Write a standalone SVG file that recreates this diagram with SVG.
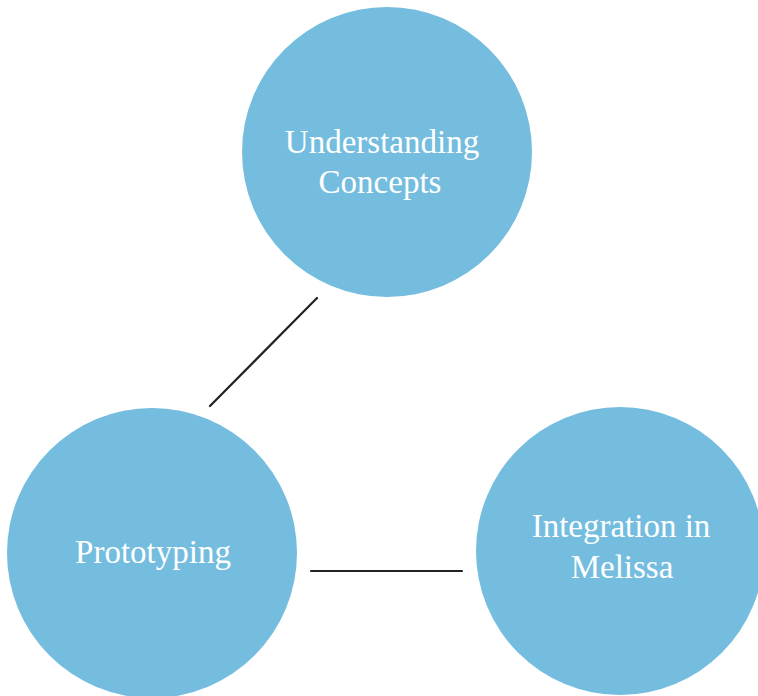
<svg xmlns="http://www.w3.org/2000/svg" width="758" height="696" viewBox="0 0 758 696">
<style>
.node{fill:#74bddf}
.lbl{font-family:"Liberation Serif","Times New Roman",serif;font-size:33px;fill:#ffffff;text-anchor:middle}
.conn{stroke:#222222;stroke-width:2.2;fill:none;stroke-linecap:round}
</style>
<rect width="758" height="696" fill="#ffffff"/>
<g id="connectors">
<line class="conn" x1="317" y1="298" x2="210" y2="406"/>
<line class="conn" x1="311" y1="571" x2="462" y2="571"/>
</g>
<g id="understanding">
<circle class="node" cx="387" cy="152" r="145"/>
<text class="lbl" x="382" y="153">Understanding</text>
<text class="lbl" x="380" y="193">Concepts</text>
</g>
<g id="prototyping">
<circle class="node" cx="152" cy="553" r="145"/>
<text class="lbl" x="153" y="563">Prototyping</text>
</g>
<g id="integration">
<circle class="node" cx="620" cy="551" r="144"/>
<text class="lbl" x="621" y="537">Integration in</text>
<text class="lbl" x="622" y="578">Melissa</text>
</g>
</svg>
